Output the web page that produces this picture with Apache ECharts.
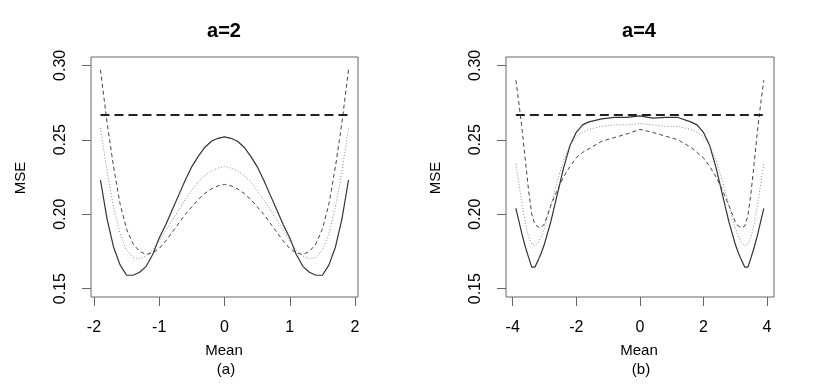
<!DOCTYPE html>
<html lang="en">
    <head>
        <meta charset="UTF-8" />
        <script src="https://cdn.jsdelivr.net/npm/echarts@6.0.0/dist/echarts.min.js"></script>
        <title>MSE a=2, a=4</title>
        <style>
            html, body { margin: 0; padding: 0; background: #fff; }
            #chart { width: 830px; height: 389px; }
        </style>
    </head>
    <body>
        <div id="chart"></div>
        <script type="text/javascript">
            // panel (a): a=2, means from -1.9 to 1.9
            var meanA = [-1.9, -1.8, -1.7, -1.6, -1.5, -1.4, -1.3, -1.2, -1.1, -1.0, -0.9, -0.8, -0.7, -0.6, -0.5, -0.4, -0.3, -0.2, -0.1, 0,
                0.1, 0.2, 0.3, 0.4, 0.5, 0.6, 0.7, 0.8, 0.9, 1.0, 1.1, 1.2, 1.3, 1.4, 1.5, 1.6, 1.7, 1.8, 1.9];
            var solidA = [0.223, 0.197, 0.178, 0.166, 0.159, 0.159, 0.161, 0.165, 0.173, 0.184, 0.193, 0.203, 0.213, 0.223, 0.232, 0.239, 0.245, 0.249, 0.251, 0.252,
                0.251, 0.249, 0.245, 0.239, 0.232, 0.223, 0.213, 0.203, 0.193, 0.184, 0.173, 0.165, 0.161, 0.159, 0.159, 0.166, 0.178, 0.197, 0.223];
            var dottedA = [0.258, 0.229, 0.205, 0.187, 0.176, 0.171, 0.170, 0.172, 0.176, 0.182, 0.189, 0.196, 0.203, 0.210, 0.216, 0.222, 0.226, 0.229, 0.231, 0.232,
                0.231, 0.229, 0.226, 0.222, 0.216, 0.210, 0.203, 0.196, 0.189, 0.182, 0.176, 0.172, 0.170, 0.171, 0.176, 0.187, 0.205, 0.229, 0.258];
            var dashedA = [0.297, 0.262, 0.232, 0.207, 0.190, 0.180, 0.175, 0.173, 0.174, 0.177, 0.182, 0.188, 0.194, 0.200, 0.205, 0.210, 0.214, 0.217, 0.219, 0.220,
                0.219, 0.217, 0.214, 0.210, 0.205, 0.200, 0.194, 0.188, 0.182, 0.177, 0.174, 0.173, 0.175, 0.180, 0.190, 0.207, 0.232, 0.262, 0.297];
            var refMeanA = [-1.9, 1.9];
            var refA = [0.2667, 0.2667];

            // panel (b): a=4, means from -3.9 to 3.9
            var meanB = [-3.9, -3.8, -3.7, -3.6, -3.5, -3.4, -3.3, -3.2, -3.1, -3.0, -2.8, -2.6, -2.4, -2.2, -2.0, -1.8, -1.6, -1.2, -0.8, -0.4, 0,
                0.4, 0.8, 1.2, 1.6, 1.8, 2.0, 2.2, 2.4, 2.6, 2.8, 3.0, 3.1, 3.2, 3.3, 3.4, 3.5, 3.6, 3.7, 3.8, 3.9];
            var solidB = [0.204, 0.195, 0.186, 0.178, 0.171, 0.1645, 0.1645, 0.169, 0.174, 0.180, 0.195, 0.213, 0.231, 0.246, 0.255, 0.260, 0.262, 0.264, 0.265, 0.265, 0.266,
                0.2645, 0.265, 0.265, 0.262, 0.260, 0.255, 0.246, 0.231, 0.213, 0.195, 0.180, 0.174, 0.169, 0.1645, 0.1645, 0.171, 0.178, 0.186, 0.195, 0.204];
            var dottedB = [0.234, 0.220, 0.206, 0.194, 0.185, 0.180, 0.179, 0.181, 0.185, 0.191, 0.206, 0.222, 0.236, 0.246, 0.252, 0.255, 0.257, 0.259, 0.260, 0.260, 0.261,
                0.260, 0.259, 0.259, 0.257, 0.255, 0.252, 0.246, 0.236, 0.222, 0.206, 0.191, 0.185, 0.181, 0.179, 0.180, 0.185, 0.194, 0.206, 0.220, 0.234];
            var dashedB = [0.290, 0.274, 0.256, 0.236, 0.216, 0.200, 0.193, 0.1915, 0.191, 0.1935, 0.206, 0.216, 0.225, 0.232, 0.238, 0.2415, 0.244, 0.249, 0.2515, 0.254, 0.257,
                0.255, 0.2525, 0.250, 0.245, 0.2415, 0.238, 0.232, 0.225, 0.216, 0.206, 0.195, 0.192, 0.191, 0.192, 0.199, 0.215, 0.235, 0.256, 0.274, 0.290];
            var refMeanB = [-3.9, 3.9];
            var refB = [0.2667, 0.2667];

            var xTicksA = [-2, -1, 0, 1, 2];
            var xTicksB = [-4, -2, 0, 2, 4];
            var yTicks = [0.15, 0.2, 0.25, 0.3];

            var FONT = "Liberation Sans, Arial, sans-serif";
            var BOX = "#666";

            function pairs(xs, ys) {
                return xs.map(function (x, i) { return [x, ys[i]]; });
            }

            function xAxisFor(idx, lo, hi, ticks) {
                return {
                    type: "value", gridIndex: idx, min: lo, max: hi,
                    axisLine: { show: false, onZero: false },
                    splitLine: { show: false },
                    axisTick: { show: true, length: 9, customValues: ticks, lineStyle: { color: BOX } },
                    axisLabel: { customValues: ticks, margin: 23, fontSize: 16, color: "#000", fontFamily: FONT }
                };
            }

            function yAxisFor(idx) {
                return {
                    type: "value", gridIndex: idx, min: 0.1444, max: 0.3056,
                    axisLine: { show: false, onZero: false },
                    splitLine: { show: false },
                    axisTick: { show: true, length: 9, customValues: yTicks, lineStyle: { color: BOX } },
                    axisLabel: {
                        customValues: yTicks, rotate: 90, margin: 22, fontSize: 16, color: "#000", fontFamily: FONT,
                        formatter: function (v) { return v.toFixed(2); }
                    }
                };
            }

            function curves(idx, xs, solid, dotted, dashed, refX, ref) {
                var base = { type: "line", xAxisIndex: idx, yAxisIndex: idx, showSymbol: false, silent: true };
                return [
                    Object.assign({}, base, { data: pairs(xs, solid), lineStyle: { color: "#333", width: 1.2 } }),
                    Object.assign({}, base, { data: pairs(xs, dotted), lineStyle: { color: "#888", width: 1, type: [1, 2] } }),
                    Object.assign({}, base, { data: pairs(xs, dashed), lineStyle: { color: "#444", width: 1, type: [4, 3] } }),
                    Object.assign({}, base, { data: pairs(refX, ref), lineStyle: { color: "#222", width: 2, type: [9, 5] } })
                ];
            }

            function label(text, x, y, size, bold, rot) {
                return {
                    type: "text", x: x, y: y, rotation: rot || 0, silent: true,
                    style: {
                        text: text, fill: "#000", align: "center", verticalAlign: "middle",
                        font: (bold ? "bold " : "") + size + "px " + FONT
                    }
                };
            }

            var chart = echarts.init(document.getElementById("chart"));
            chart.setOption({
                animation: false,
                grid: [
                    { left: 91, top: 57, width: 267, height: 240, show: true, borderColor: BOX, borderWidth: 1 },
                    { left: 506, top: 57, width: 268, height: 240, show: true, borderColor: BOX, borderWidth: 1 }
                ],
                xAxis: [xAxisFor(0, -2.045, 2.045, xTicksA), xAxisFor(1, -4.21, 4.22, xTicksB)],
                yAxis: [yAxisFor(0), yAxisFor(1)],
                graphic: [
                    label("a=2", 224, 31, 20, true),
                    label("a=4", 639, 31, 20, true),
                    label("Mean", 224, 351, 15),
                    label("Mean", 639, 351, 15),
                    label("(a)", 226, 370, 15),
                    label("(b)", 641, 370, 15),
                    label("MSE", 21, 178, 15, false, Math.PI / 2),
                    label("MSE", 436, 178, 15, false, Math.PI / 2)
                ],
                series: curves(0, meanA, solidA, dottedA, dashedA, refMeanA, refA)
                    .concat(curves(1, meanB, solidB, dottedB, dashedB, refMeanB, refB))
            });
        </script>
    </body>
</html>
